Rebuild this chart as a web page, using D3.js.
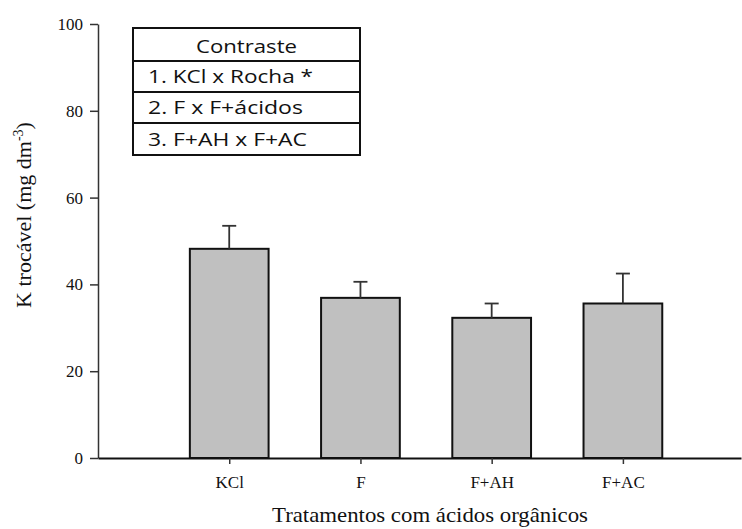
<!DOCTYPE html>
<html>
<head>
<meta charset="utf-8">
<script src="https://cdn.jsdelivr.net/npm/d3@7"></script>
<style>
  html, body { margin: 0; padding: 0; background: #fff; }
  svg { display: block; }
</style>
</head>
<body>
<svg id="chart" width="742" height="529"></svg>
<script>
// Exchangeable K by treatment (mean and error)
const categories = ["KCl", "F", "F+AH", "F+AC"];
const means = [48.2, 36.9, 32.3, 35.6];
const errors = [5.3, 3.7, 3.3, 6.9];
const yTicks = [0, 20, 40, 60, 80, 100];
const contrastTitle = "Contraste";
const contrastRows = ["1. KCl x Rocha *", "2. F x F+ácidos", "3. F+AH x F+AC"];

const svg = d3.select("#chart");
const serif = "'Liberation Serif', 'Times New Roman', serif";
const sans = "'Open Sans', 'Noto Sans', sans-serif";

const y = d3.scaleLinear().domain([0, 100]).range([458, 24]);
const x = d3.scaleLinear().domain([0, 4.9]).range([98, 741]);
const barW = x(0.6) - x(0);

// Bars
svg.append("g").selectAll("rect")
  .data(means)
  .join("rect")
  .attr("x", (d, i) => x(i + 1) - barW / 2)
  .attr("y", d => y(d))
  .attr("width", barW)
  .attr("height", d => y(0) - y(d))
  .attr("fill", "#c0c0c0")
  .attr("stroke", "#111")
  .attr("stroke-width", 2);

// Error bars (upper only)
const eb = svg.append("g").attr("stroke", "#333").attr("stroke-width", 1.8);
means.forEach((m, i) => {
  const cx = x(i + 1);
  eb.append("line").attr("x1", cx).attr("x2", cx).attr("y1", y(m)).attr("y2", y(m + errors[i]));
  eb.append("line").attr("x1", cx - 7).attr("x2", cx + 7).attr("y1", y(m + errors[i])).attr("y2", y(m + errors[i]));
});

// Y axis
const yAxis = svg.append("g")
  .attr("transform", `translate(${x(0)},0)`)
  .call(d3.axisLeft(y).tickValues(yTicks).tickSize(8).tickPadding(7).tickSizeOuter(0));
yAxis.select(".domain").attr("stroke", "#333").attr("stroke-width", 1.5);
yAxis.selectAll(".tick line").attr("stroke", "#333").attr("stroke-width", 1.5);
yAxis.selectAll("text").attr("font-family", serif).attr("font-size", 17).attr("fill", "#111");

// X axis
const xAxis = svg.append("g")
  .attr("transform", `translate(0,${y(0)})`)
  .call(d3.axisBottom(x).tickValues([1, 2, 3, 4]).tickFormat((d) => categories[d - 1])
    .tickSize(6).tickPadding(12).tickSizeOuter(0));
xAxis.select(".domain").attr("stroke", "#111").attr("stroke-width", 2);
xAxis.selectAll(".tick line").attr("stroke", "#333").attr("stroke-width", 1.5);
xAxis.selectAll("text").attr("font-family", serif).attr("font-size", 17).attr("fill", "#111");

// Axis titles
svg.append("text")
  .attr("x", 430).attr("y", 522)
  .attr("text-anchor", "middle")
  .attr("font-family", serif).attr("font-size", 21).attr("fill", "#111")
  .attr("textLength", 316).attr("lengthAdjust", "spacingAndGlyphs")
  .text("Tratamentos com ácidos orgânicos");

const yTitle = svg.append("text")
  .attr("transform", "translate(31,215) rotate(-90)")
  .attr("text-anchor", "middle")
  .attr("font-family", serif).attr("font-size", 22).attr("fill", "#111");
yTitle.append("tspan").text("K trocável (mg dm");
yTitle.append("tspan").attr("font-size", 14).attr("dy", -8).text("-3");
yTitle.append("tspan").attr("dy", 8).text(")");

// Contrast table
const box = { x: 133, y: 28, w: 227, rows: [28, 61, 92, 123, 155] };
const tbl = svg.append("g");
tbl.append("rect")
  .attr("x", box.x).attr("y", box.y).attr("width", box.w).attr("height", box.rows[4] - box.rows[0])
  .attr("fill", "#fff").attr("stroke", "#111").attr("stroke-width", 2);
box.rows.slice(1, 4).forEach(r => {
  tbl.append("line").attr("x1", box.x).attr("x2", box.x + box.w).attr("y1", r).attr("y2", r)
    .attr("stroke", "#111").attr("stroke-width", 2);
});
tbl.append("text")
  .attr("x", box.x + box.w / 2).attr("y", 53)
  .attr("text-anchor", "middle")
  .attr("font-family", sans).attr("font-size", 18).attr("fill", "#111")
  .attr("textLength", 101).attr("lengthAdjust", "spacingAndGlyphs")
  .text(contrastTitle);
const rowLengths = [165, 155, 159];
contrastRows.forEach((t, i) => {
  tbl.append("text")
    .attr("x", box.x + 15).attr("y", box.rows[i + 2] - 9)
    .attr("font-family", sans).attr("font-size", 18).attr("fill", "#111")
    .attr("textLength", rowLengths[i]).attr("lengthAdjust", "spacingAndGlyphs")
    .text(t);
});
</script>
</body>
</html>
